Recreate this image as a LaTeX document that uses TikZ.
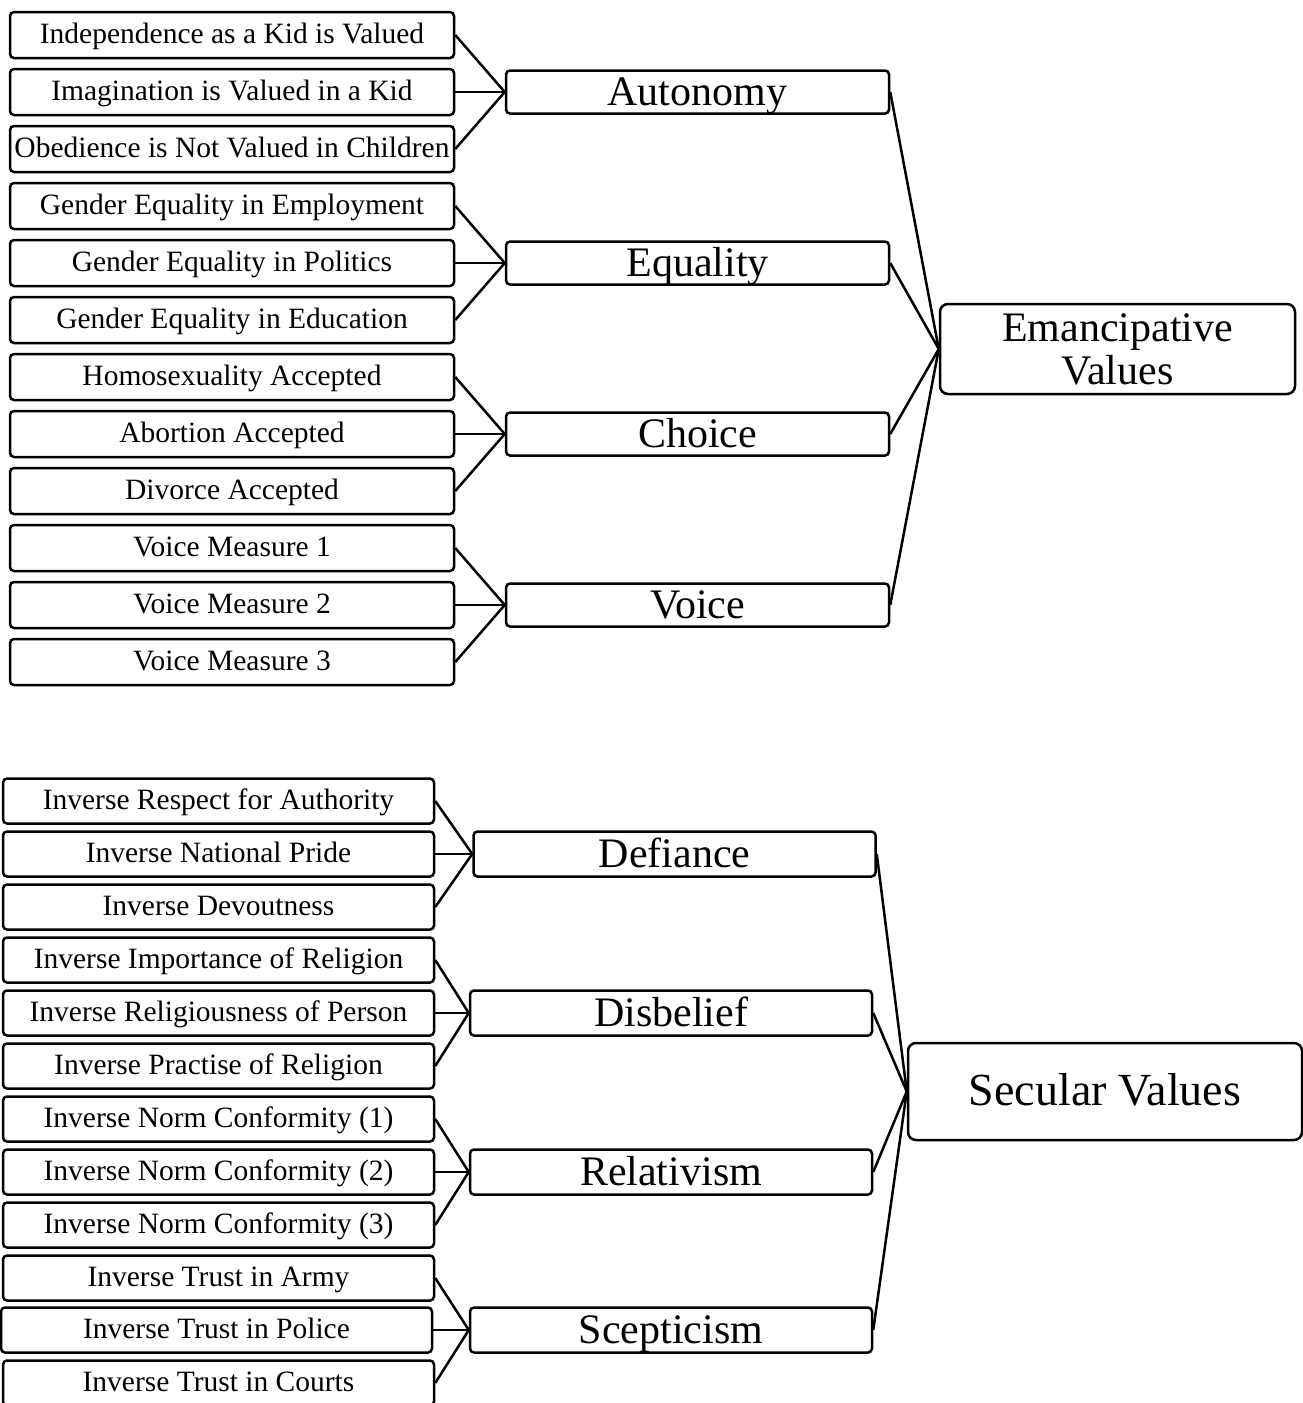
\documentclass[tikz,border=0pt]{standalone}
\usepackage{fontspec}
\setmainfont{Liberation Serif}

\tikzset{
  itembox/.style={draw,rounded corners=4pt,line width=2.5pt,inner sep=0pt,
    text height=21pt,text depth=4.5pt,font=\fontsize{29.5}{33}\selectfont},
  factorbox/.style={draw,rounded corners=4pt,line width=2.5pt,inner sep=0pt,
    text height=31pt,text depth=5pt,font=\fontsize{42}{43}\selectfont},
  valuebox/.style={draw,rounded corners=8pt,line width=2.5pt,inner sep=0pt,align=center}
}

\begin{document}
\begin{tikzpicture}[x=1pt,y=-1pt]

        \useasboundingbox (0,0) rectangle (1303,1403);

        % emancipative values
        \begin{scope}[every node/.style={itembox,minimum width=444pt,minimum height=46pt}]
          \node (e1)  at (232,35)  {Independence as a Kid is Valued};
          \node (e2)  at (232,92)  {Imagination is Valued in a Kid};
          \node (e3)  at (232,149) {Obedience is Not Valued in Children};
          \node (e4)  at (232,206) {Gender Equality in Employment};
          \node (e5)  at (232,263) {Gender Equality in Politics};
          \node (e6)  at (232,320) {Gender Equality in Education};
          \node (e7)  at (232,377) {Homosexuality Accepted};
          \node (e8)  at (232,434) {Abortion Accepted};
          \node (e9)  at (232,491) {Divorce Accepted};
          \node (e10) at (232,548) {Voice Measure 1};
          \node (e11) at (232,605) {Voice Measure 2};
          \node (e12) at (232,662) {Voice Measure 3};
        \end{scope}

        \begin{scope}[every node/.style={factorbox,minimum width=383pt,minimum height=43pt}]
          \node (autonomy) at (697.5,92)  {Autonomy};
          \node (equality) at (697.5,263) {Equality};
          \node (choice)   at (697.5,434) {Choice};
          \node (voice)    at (697.5,605) {Voice};
        \end{scope}

        \node[valuebox,minimum width=355pt,minimum height=90pt,
          font=\fontsize{42}{43}\selectfont] (emancip) at (1117.5,349) {Emancipative\\Values};

        % secular values
        \begin{scope}[every node/.style={itembox,minimum width=431pt,minimum height=45pt}]
          \node (s1)  at (218.5,801)  {Inverse Respect for Authority};
          \node (s2)  at (218.5,854)  {Inverse National Pride};
          \node (s3)  at (218.5,907)  {Inverse Devoutness};
          \node (s4)  at (218.5,960)  {Inverse Importance of Religion};
          \node (s5)  at (218.5,1013) {Inverse Religiousness of Person};
          \node (s6)  at (218.5,1066) {Inverse Practise of Religion};
          \node (s7)  at (218.5,1119) {Inverse Norm Conformity (1)};
          \node (s8)  at (218.5,1172) {Inverse Norm Conformity (2)};
          \node (s9)  at (218.5,1225) {Inverse Norm Conformity (3)};
          \node (s10) at (218.5,1278) {Inverse Trust in Army};
          \node (s11) at (216.5,1330) {Inverse Trust in Police};
          \node (s12) at (218.5,1383) {Inverse Trust in Courts};
        \end{scope}

        \begin{scope}[every node/.style={factorbox,minimum width=402pt,minimum height=45pt}]
          \node (defiance)   at (674.5,854) {Defiance};
          \node (disbelief)  at (671,1013)  {Disbelief};
          \node (relativism) at (671,1172)  {Relativism};
          \node (scepticism) at (671,1330)  {Scepticism};
        \end{scope}

        \node[valuebox,minimum width=394pt,minimum height=97pt,
          font=\fontsize{46}{48}\selectfont,text height=33pt,text depth=6pt]
          (secular) at (1105,1091.5) {Secular Values};

        \begin{scope}[every edge/.style={draw,line width=2.5pt}]
          \path (e1.east)  edge (autonomy.west);
          \path (e2.east)  edge (autonomy.west);
          \path (e3.east)  edge (autonomy.west);
          \path (e4.east)  edge (equality.west);
          \path (e5.east)  edge (equality.west);
          \path (e6.east)  edge (equality.west);
          \path (e7.east)  edge (choice.west);
          \path (e8.east)  edge (choice.west);
          \path (e9.east)  edge (choice.west);
          \path (e10.east) edge (voice.west);
          \path (e11.east) edge (voice.west);
          \path (e12.east) edge (voice.west);
          \path (autonomy.east) edge (emancip.west);
          \path (equality.east) edge (emancip.west);
          \path (choice.east)   edge (emancip.west);
          \path (voice.east)    edge (emancip.west);

          \path (s1.east)  edge (defiance.west);
          \path (s2.east)  edge (defiance.west);
          \path (s3.east)  edge (defiance.west);
          \path (s4.east)  edge (disbelief.west);
          \path (s5.east)  edge (disbelief.west);
          \path (s6.east)  edge (disbelief.west);
          \path (s7.east)  edge (relativism.west);
          \path (s8.east)  edge (relativism.west);
          \path (s9.east)  edge (relativism.west);
          \path (s10.east) edge (scepticism.west);
          \path (s11.east) edge (scepticism.west);
          \path (s12.east) edge (scepticism.west);
          \path (defiance.east)   edge (secular.west);
          \path (disbelief.east)  edge (secular.west);
          \path (relativism.east) edge (secular.west);
          \path (scepticism.east) edge (secular.west);
        \end{scope}

      \end{tikzpicture}
\end{document}
